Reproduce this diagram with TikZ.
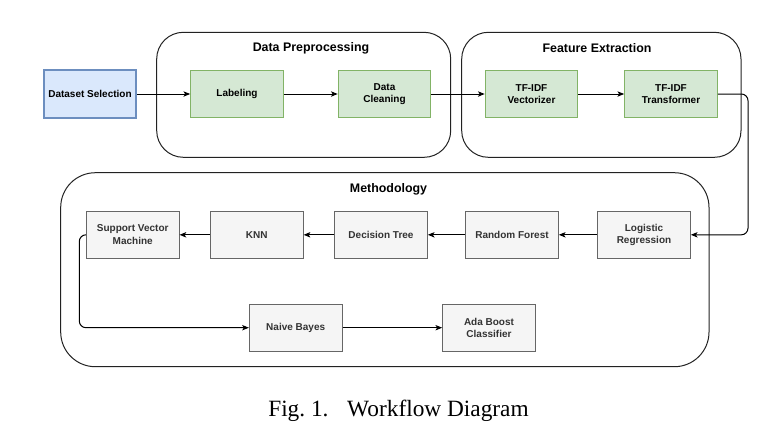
\documentclass[tikz,border=0pt]{standalone}
\usepackage{fontspec}
\setmainfont{Liberation Sans}
\newfontfamily\capfont{Liberation Serif}
\usetikzlibrary{arrows.meta}
\definecolor{bluefill}{HTML}{DAE8FC}
\definecolor{blueline}{HTML}{6C8EBF}
\definecolor{greenfill}{HTML}{D5E8D4}
\definecolor{greenline}{HTML}{82B366}
\definecolor{grayfill}{HTML}{F5F5F5}
\definecolor{grayline}{HTML}{666666}
\definecolor{graytext}{HTML}{333333}
\definecolor{frameline}{HTML}{222222}
\tikzset{
  basebox/.style={rectangle, minimum width=69.5pt, minimum height=35.4pt, inner sep=1pt, align=center,
    font=\fontsize{7.5}{9.4}\selectfont\bfseries, line width=0.75pt},
  bluebox/.style={basebox, fill=bluefill, draw=blueline, line width=1.5pt},
  greenbox/.style={basebox, fill=greenfill, draw=greenline},
  graybox/.style={basebox, fill=grayfill, draw=grayline, text=graytext},
  container/.style={draw=frameline, line width=0.75pt},
  ctitle/.style={font=\fontsize{9.3}{11}\selectfont\bfseries, inner sep=0pt},
  flow/.style={draw=black, line width=0.75pt, -{Stealth[length=5pt,width=4pt,inset=1.2pt]}},
}
\begin{document}
\begin{tikzpicture}[x=0.75pt,y=-0.75pt]
\useasboundingbox (0,0) rectangle (777,440);
% containers
\draw[container, rounded corners=20] (156.7,32.3) rectangle (450.7,157.3);
\node[ctitle] (tdp) at (311,48) {Data Preprocessing};
\draw[container, rounded corners=20] (461.7,32.3) rectangle (741,157.3);
\node[ctitle] (tfe) at (597,48) {Feature Extraction};
\draw[container, rounded corners=26] (60.7,172.7) rectangle (709,366.7);
\node[ctitle] (tme) at (388.5,189) {Methodology};
% nodes
\node[bluebox] (ds) at (90,94) {Dataset Selection};
\node[greenbox] (lab) at (237,94) {Labeling};
\node[greenbox] (clean) at (384.5,94) {Data\\Cleaning};
\node[greenbox] (vec) at (531.5,94) {TF-IDF\\Vectorizer};
\node[greenbox] (tra) at (671,94) {TF-IDF\\Transformer};
\node[graybox] (lr) at (644,234.8) {Logistic\\Regression};
\node[graybox] (rf) at (512,234.8) {Random Forest};
\node[graybox] (dt) at (381,234.8) {Decision Tree};
\node[graybox] (knn) at (256.8,234.8) {KNN};
\node[graybox] (svm) at (132.7,234.8) {Support Vector\\Machine};
\node[graybox] (nb) at (295.7,327.7) {Naive Bayes};
\node[graybox] (ada) at (489,327.7) {Ada Boost\\Classifier};
\coordinate (c1) at (748,94);
\coordinate (c2) at (748,234.8);
\coordinate (c3) at (79.3,234.8);
\coordinate (c4) at (79.3,327.7);
% connectors
\draw[flow] (ds) -- (lab);
\draw[flow] (lab) -- (clean);
\draw[flow] (clean) -- (vec);
\draw[flow] (vec) -- (tra);
\draw[flow, rounded corners=5] (tra.east) -- (c1) -- (c2) -- (lr.east);
\draw[flow] (lr) -- (rf);
\draw[flow] (rf) -- (dt);
\draw[flow] (dt) -- (knn);
\draw[flow] (knn) -- (svm);
\draw[flow, rounded corners=5] (svm.west) -- (c3) -- (c4) -- (nb.west);
\draw[flow] (nb) -- (ada);
% caption
\node[font=\capfont\fontsize{17.5}{20}\selectfont, inner sep=0pt] (cap) at (398.5,411) {Fig.~1.\hspace{0.8em}Workflow Diagram};
\end{tikzpicture}
\end{document}
